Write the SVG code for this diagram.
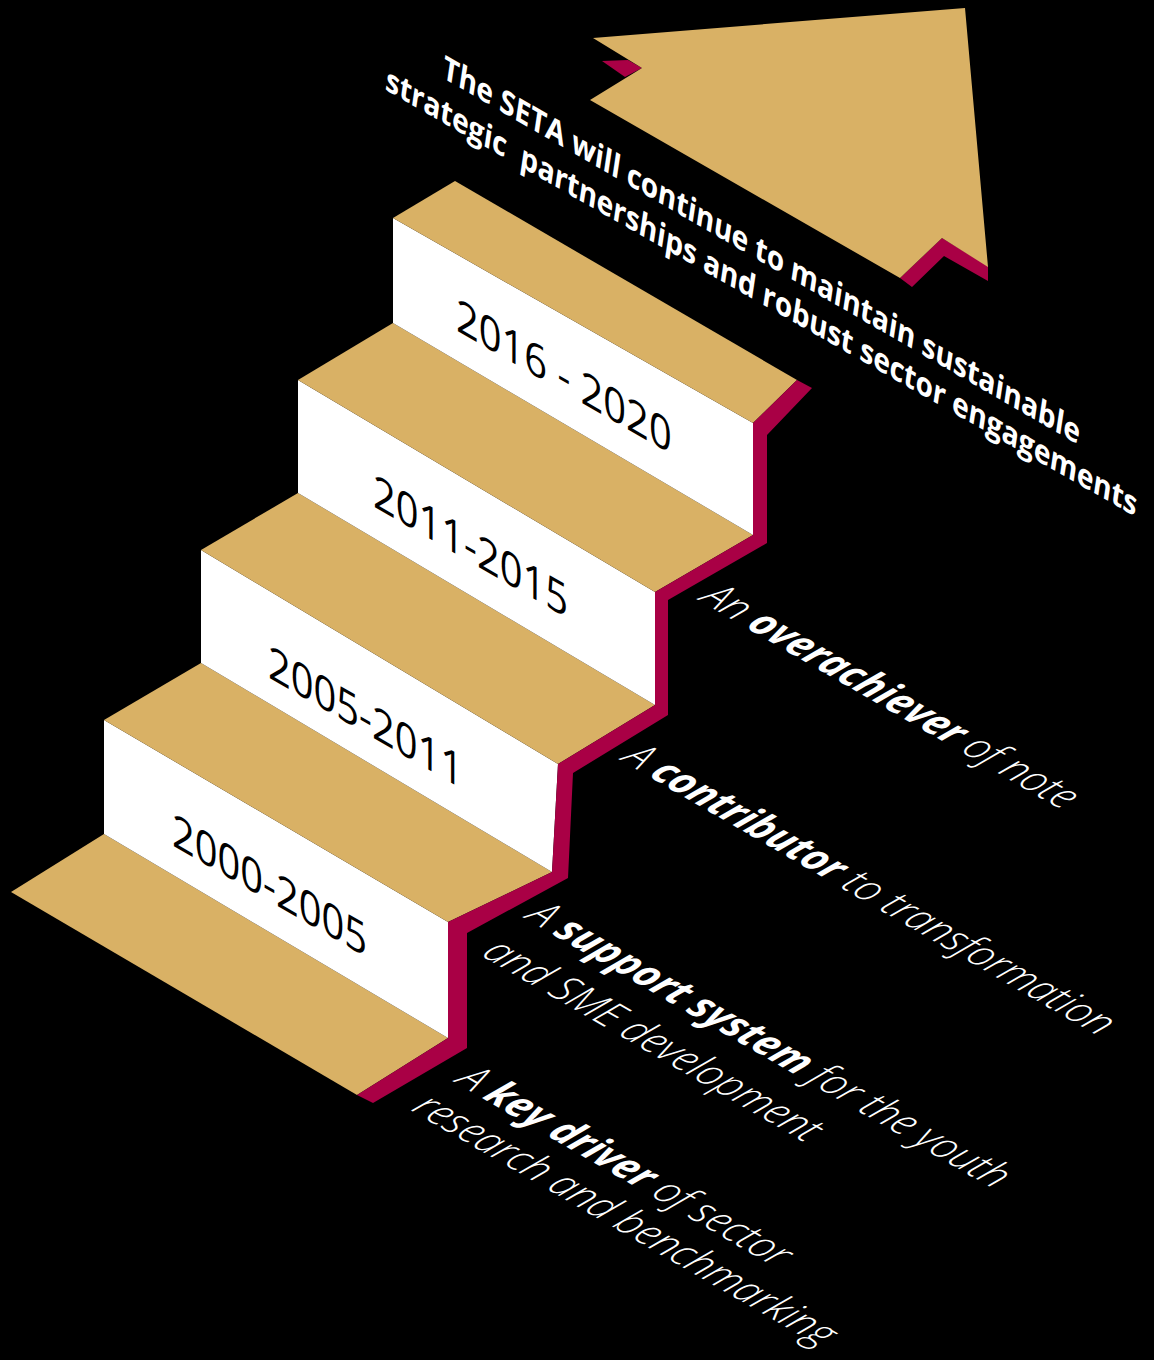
<svg xmlns="http://www.w3.org/2000/svg" width="1154" height="1360" viewBox="0 0 1154 1360">
<style>
.gold{fill:#D9B165}
.crim{fill:#A90045}
.wht{fill:#FFFFFF}
.year{font-family:"Open Sans","Liberation Sans",sans-serif;font-size:46px;font-weight:400;fill:#000}
.head{font-family:"Open Sans","Liberation Sans",sans-serif;font-size:31.5px;font-weight:700;fill:#fff;text-anchor:middle}
.desc{font-family:"Open Sans","Liberation Sans",sans-serif;font-size:39px;font-style:italic;font-weight:300;fill:#fff}
.b{font-weight:700}
</style>
<rect width="1154" height="1360" fill="#000"/>

<g id="arrow">
  <polygon class="crim" points="602,61 628,60 642,68 625,77"/>
  <polygon class="crim" points="900,278 942,238 988,266 988,281 944,256 912,287"/>
  <polygon class="gold" points="593,38 965,8 988,267 942,238 900,278 590,100 642,68"/>
</g>

<g id="headline">
  <text class="head" transform="matrix(0.866,0.5,-0.15,1,760,261)">The SETA will continue to maintain sustainable</text>
  <text class="head" xml:space="preserve" transform="matrix(0.87,0.495,-0.15,1,760,303)">strategic  partnerships and robust sector engagements</text>
</g>

<g id="staircase">
  <g id="floor">
    <polygon class="gold" points="104,834 11,892 357,1095 448,1038"/>
  </g>
  <g id="step-2000-2005">
    <polygon class="wht" points="104,720 448,922 448,1038 104,834"/>
    <polygon class="gold" points="201,663 104,720 448,922 552,872"/>
    <text class="year" transform="matrix(0.866,0.5,0,1,172,845)">2000-2005</text>
  </g>
  <g id="step-2005-2011">
    <polygon class="wht" points="201,550 558,764 552,872 201,663"/>
    <polygon class="gold" points="298,493 201,550 558,764 655,705"/>
    <text class="year" transform="matrix(0.866,0.5,0,1,268,677)">2005-2011</text>
  </g>
  <g id="step-2011-2015">
    <polygon class="wht" points="298,380 655,592 655,705 298,493"/>
    <polygon class="gold" points="393,323 298,380 655,592 753,535"/>
    <text class="year" transform="matrix(0.866,0.5,0,1,373,506)">2011-2015</text>
  </g>
  <g id="step-2016-2020">
    <polygon class="wht" points="393,218 753,423 753,535 393,323"/>
    <polygon class="gold" points="455,181 393,218 753,423 797,380"/>
    <text class="year" transform="matrix(0.866,0.5,0,1,456,330)">2016 - 2020</text>
  </g>
  <g id="profile">
    <polygon class="crim" points="797,380 812,388 767,435 767,543 668,600 668,715 573,773 568,878 467,933 467,1048 373,1103 357,1095 448,1038 448,922 552,872 558,764 655,705 655,592 753,535 753,423"/>
  </g>
</g>

<g id="connectors"/>

<g id="descriptions">
  <text class="desc" transform="translate(698,600) rotate(30) skewX(-20)">An <tspan class="b">overachiever</tspan> of note</text>
  <text class="desc" transform="translate(620,760) rotate(30) skewX(-20)">A <tspan class="b">contributor</tspan> to transformation</text>
  <text class="desc" transform="translate(524,918) rotate(30) skewX(-20)">A <tspan class="b">support system</tspan> for the youth</text>
  <text class="desc" transform="translate(480,955) rotate(30) skewX(-20)">and SME development</text>
  <text class="desc" transform="translate(454,1082) rotate(30) skewX(-20)">A <tspan class="b">key driver</tspan> of sector</text>
  <text class="desc" transform="translate(410,1110) rotate(30) skewX(-20)">research and benchmarking</text>
</g>
</svg>
